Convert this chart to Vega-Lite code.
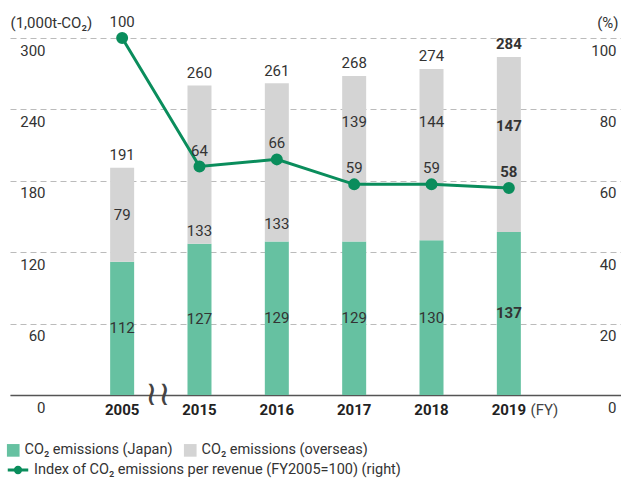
{
  "$schema": "https://vega.github.io/schema/vega-lite/v6.json",
  "autosize": "none",
  "width": 611,
  "height": 357,
  "padding": {"left": 10, "top": 38, "right": 0, "bottom": 84},
  "background": "white",
  "config": {
    "font": "Roboto",
    "view": {"stroke": null},
    "text": {"font": "Roboto", "fontSize": 15, "color": "#333"},
    "axis": {"labelFont": "Roboto", "titleFont": "Roboto", "labelColor": "#333", "titleColor": "#333"},
    "legend": {"labelFont": "Roboto", "labelFontSize": 14.5, "labelColor": "#333", "orient": "none", "labelLimit": 600}
  },
  "datasets": {
    "co2": [
      {"year": "2005", "japan": 112, "overseas": 79, "total": 191, "index": 100, "series": "Index of CO₂ emissions per revenue (FY2005=100) (right)"},
      {"year": "2015", "japan": 127, "overseas": 133, "total": 260, "index": 64, "series": "Index of CO₂ emissions per revenue (FY2005=100) (right)"},
      {"year": "2016", "japan": 129, "overseas": 133, "total": 261, "index": 66, "series": "Index of CO₂ emissions per revenue (FY2005=100) (right)"},
      {"year": "2017", "japan": 129, "overseas": 139, "total": 268, "index": 59, "series": "Index of CO₂ emissions per revenue (FY2005=100) (right)"},
      {"year": "2018", "japan": 130, "overseas": 144, "total": 274, "index": 59, "series": "Index of CO₂ emissions per revenue (FY2005=100) (right)"},
      {"year": "2019", "japan": 137, "overseas": 147, "total": 284, "index": 58, "series": "Index of CO₂ emissions per revenue (FY2005=100) (right)"}
    ],
    "brk": [{"year": "2005", "v": 0, "sym": "≀≀"}]
  },
  "data": {"name": "co2"},
  "encoding": {
    "x": {
      "field": "year", "type": "nominal", "sort": null,
      "scale": {"paddingInner": 0, "paddingOuter": 0.95},
      "axis": {
        "title": "(FY)", "titleX": 520, "titleY": 14, "titleAlign": "left", "titleBaseline": "middle",
        "titleFontWeight": "normal", "titleFontSize": 15, "titleColor": "#444",
        "labelAngle": 0, "labelFontSize": 15, "labelFontWeight": "bold", "labelColor": "#222",
        "labelPadding": 7, "ticks": false, "domainColor": "#555", "domainWidth": 1.5
      }
    }
  },
  "layer": [
    {
      "layer": [
        {
          "transform": [{"fold": ["japan", "overseas"], "as": ["key", "value"]}],
          "mark": {"type": "bar", "width": 24},
          "encoding": {
            "y": {
              "field": "value", "type": "quantitative", "stack": "zero",
              "scale": {"domain": [0, 300], "nice": false},
              "axis": {
                "values": [0, 60, 120, 180, 240, 300], "grid": true, "gridDash": [6, 4], "gridColor": "#bbb", "gridWidth": 1,
                "domain": false, "ticks": false, "labelAlign": "right", "labelPadding": -35, "labelBaseline": "top",
                "labelOffset": 5, "labelFontSize": 15,
                "title": "(1,000t-CO₂)", "titleAngle": 0, "titleX": 0, "titleY": -16, "titleAlign": "left",
                "titleBaseline": "middle", "titleFontWeight": "normal", "titleFontSize": 15
              }
            },
            "order": {"field": "key", "sort": "ascending"},
            "color": {
              "field": "key", "type": "nominal",
              "scale": {"domain": ["japan", "overseas"], "range": ["#66c1a1", "#d4d4d4"]},
              "legend": {
                "title": null, "direction": "horizontal", "columns": 2, "legendX": -4, "legendY": 405,
                "symbolType": "square", "symbolSize": 160, "symbolStrokeWidth": 0, "columnPadding": 10,
                "labelExpr": "datum.label === 'japan' ? 'CO₂ emissions (Japan)' : 'CO₂ emissions (overseas)'"
              }
            }
          }
        },
        {
          "transform": [
            {"fold": ["japan", "overseas"], "as": ["key", "value"]},
            {"stack": "value", "groupby": ["year"], "sort": [{"field": "key", "order": "ascending"}], "as": ["v0", "v1"]},
            {"calculate": "(datum.v0 + datum.v1) / 2", "as": "mid"},
            {"calculate": "datum.index * 3", "as": "lineAt"},
            {"calculate": "abs(datum.mid - datum.lineAt) < 40 ? (datum.lineAt >= datum.mid - 5 ? datum.lineAt - 54 : datum.lineAt + 52) : datum.mid", "as": "labelAt"}
          ],
          "mark": {"type": "text", "baseline": "middle", "fontWeight": {"expr": "datum.year === '2019' ? 'bold' : 'normal'"}},
          "encoding": {
            "y": {"field": "labelAt", "type": "quantitative"},
            "text": {"field": "value", "type": "quantitative"}
          }
        },
        {
          "mark": {"type": "text", "baseline": "bottom", "dy": -5, "fontWeight": {"expr": "datum.year === '2019' ? 'bold' : 'normal'"}},
          "encoding": {
            "y": {"field": "total", "type": "quantitative"},
            "text": {"field": "total", "type": "quantitative"}
          }
        },
        {
          "data": {"name": "brk"},
          "mark": {"type": "text", "font": "DejaVu Sans", "fontSize": 34, "dx": 36, "baseline": "middle", "color": "#444", "letterSpacing": -9, "fontWeight": 300},
          "encoding": {
            "y": {"field": "v", "type": "quantitative"},
            "text": {"field": "sym"}
          }
        }
      ]
    },
    {
      "layer": [
        {
          "mark": {"type": "line", "strokeWidth": 3, "point": {"filled": true, "size": 100, "color": "#0a8d5c"}},
          "encoding": {
            "y": {
              "field": "index", "type": "quantitative",
              "scale": {"domain": [0, 100], "nice": false},
              "axis": {
                "orient": "right", "values": [0, 20, 40, 60, 80, 100], "grid": false, "domain": false, "ticks": false,
                "labelAlign": "right", "labelPadding": -5, "labelBaseline": "top", "labelOffset": 5, "labelFontSize": 15,
                "title": "(%)", "titleAngle": 0, "titleX": -3, "titleY": -16, "titleAlign": "right",
                "titleBaseline": "middle", "titleFontWeight": "normal", "titleFontSize": 15
              }
            },
            "stroke": {
              "field": "series", "type": "nominal",
              "scale": {"range": ["#0a8d5c"]},
              "legend": {
                "title": null, "legendX": -4, "legendY": 420,
                "symbolType": "M-1,0H1M-0.26,0A0.26,0.26 0 1 0 0.26,0A0.26,0.26 0 1 0 -0.26,0",
                "symbolSize": 420, "symbolStrokeWidth": 3, "symbolFillColor": "#0a8d5c", "symbolStrokeColor": "#0a8d5c"
              }
            }
          }
        },
        {
          "mark": {"type": "text", "baseline": "middle", "dy": -16, "fontWeight": {"expr": "datum.year === '2019' ? 'bold' : 'normal'"}},
          "encoding": {
            "y": {"field": "index", "type": "quantitative"},
            "text": {"field": "index", "type": "quantitative"}
          }
        }
      ]
    }
  ],
  "resolve": {"scale": {"y": "independent"}}
}
